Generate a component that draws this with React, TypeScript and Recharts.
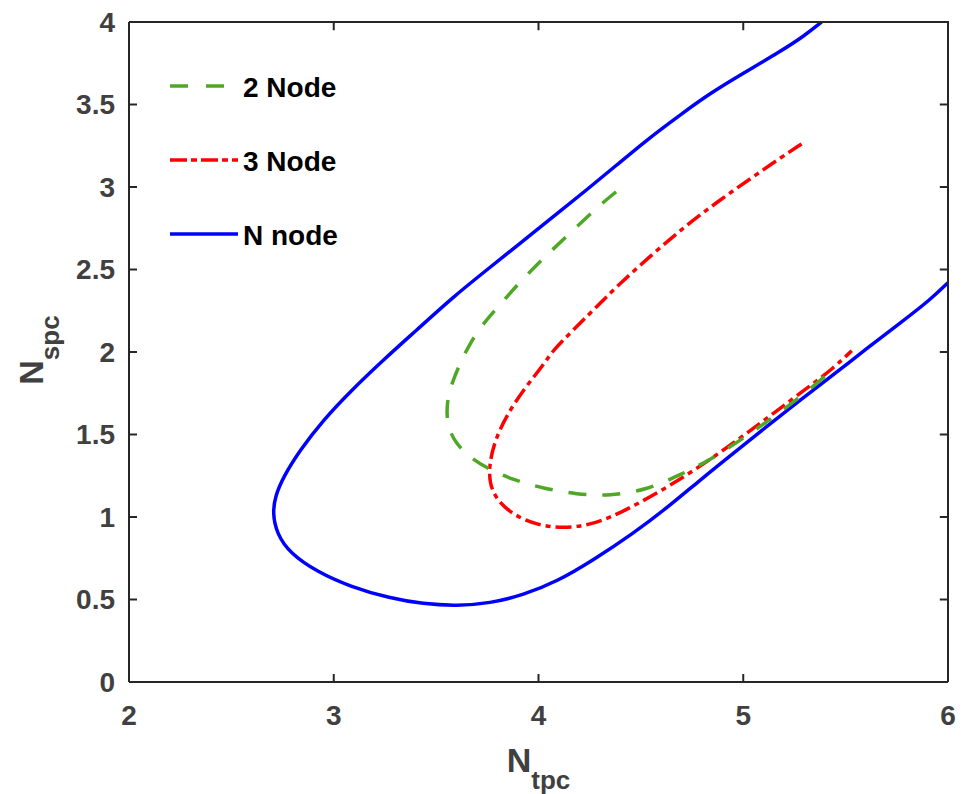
import React from 'react';
import { LineChart, Line, XAxis, YAxis, Legend, ReferenceLine } from 'recharts';

// ---- data ----
const xTicks = [2, 3, 4, 5, 6];
const yTicks = [0, 0.5, 1, 1.5, 2, 2.5, 3, 3.5, 4];
const xDomain: [number, number] = [2, 6];
const yDomain: [number, number] = [0, 4];

const seriesNames = ['2 Node', '3 Node', 'N node'];

const twoNodeX = [4.379, 4.3, 4.17, 4.04, 3.91, 3.796, 3.731, 3.665, 3.617, 3.576, 3.551, 3.554, 3.584, 3.649, 3.747, 3.877, 4.023, 4.186, 4.349, 4.528, 4.691, 4.838, 5.0, 5.163, 5.31, 5.456];
const twoNodeY = [2.971, 2.891, 2.739, 2.588, 2.426, 2.265, 2.174, 2.053, 1.931, 1.81, 1.689, 1.568, 1.467, 1.376, 1.295, 1.224, 1.174, 1.137, 1.127, 1.164, 1.255, 1.345, 1.477, 1.618, 1.759, 1.911];

const threeNodeX = [5.285, 5.179, 5.049, 4.886, 4.724, 4.561, 4.398, 4.268, 4.17, 4.072, 4.023, 3.926, 3.845, 3.788, 3.76, 3.76, 3.796, 3.877, 3.991, 4.121, 4.251, 4.382, 4.593, 4.789, 4.984, 5.147, 5.31, 5.44, 5.53];
const threeNodeY = [3.261, 3.174, 3.063, 2.921, 2.77, 2.598, 2.416, 2.255, 2.133, 2.012, 1.921, 1.77, 1.618, 1.467, 1.325, 1.204, 1.103, 1.012, 0.952, 0.931, 0.952, 1.012, 1.153, 1.305, 1.477, 1.628, 1.78, 1.901, 2.008];

const nNodeX = [5.383, 5.293, 5.179, 5.0, 4.838, 4.691, 4.528, 4.382, 4.235, 4.072, 3.91, 3.747, 3.584, 3.405, 3.242, 3.079, 2.949, 2.835, 2.754, 2.713, 2.702, 2.721, 2.786, 2.917, 3.079, 3.275, 3.437, 3.6, 3.763, 3.926, 4.089, 4.268, 4.463, 4.626, 4.789, 4.951, 5.114, 5.277, 5.44, 5.603, 5.765, 5.912, 6.0];
const nNodeY = [4.0, 3.911, 3.82, 3.689, 3.568, 3.436, 3.285, 3.133, 2.982, 2.82, 2.659, 2.497, 2.335, 2.133, 1.952, 1.759, 1.588, 1.406, 1.244, 1.123, 1.022, 0.901, 0.78, 0.669, 0.578, 0.507, 0.473, 0.461, 0.477, 0.527, 0.608, 0.739, 0.901, 1.053, 1.224, 1.386, 1.547, 1.709, 1.861, 2.022, 2.174, 2.315, 2.42];

const zip = (xs: number[], ys: number[]) => xs.map((x, i) => ({ x, y: ys[i] }));
const twoNodeData = zip(twoNodeX, twoNodeY);
const threeNodeData = zip(threeNodeX, threeNodeY);
const nNodeData = zip(nNodeX, nNodeY);

// ---- styles ----
const FONT = "'Liberation Sans', Arial, Helvetica, sans-serif";
const AXIS_COLOR = '#262626';
const TEXT_COLOR = '#404040';
const GREEN = '#4fa825';
const RED = '#ff0000';
const BLUE = '#0000ff';
const GREEN_DASH = '18 16';
const RED_DASH = '16 5 5 5';
// inward tick length of the top / right box edges, in axis units (about 8 px)
const TOP_TICK_LEN = 0.05;
const RIGHT_TICK_LEN = 0.04;

// chart layout (plot area spans x 129..948, y 22..682)
const CHART_W = 964;
const CHART_H = 794;
const MARGIN = { top: 22, right: 16, bottom: 0, left: 0 };
const Y_AXIS_W = 129;
const X_AXIS_H = 112;

const seriesStyles = [
  { color: GREEN, legendDash: '18 18' as string | undefined },
  { color: RED, legendDash: '17 4 6 4' as string | undefined },
  { color: BLUE, legendDash: undefined as string | undefined },
];

const tickStyle = { fill: TEXT_COLOR, fontSize: 28, fontWeight: 'bold' as const, fontFamily: FONT };
const axisLineStyle = { stroke: AXIS_COLOR, strokeWidth: 2 };

const XLabel = (props: any) => {
  const vb = props.viewBox || { x: 129, y: 682, width: 819, height: 112 };
  const cx = vb.x + vb.width / 2;
  return (
    <text x={cx} y={vb.y + 90} textAnchor="middle" fill={TEXT_COLOR} fontFamily={FONT} fontWeight="bold" fontSize={34}>
      <tspan>N</tspan>
      <tspan dy={17} fontSize={26}>tpc</tspan>
    </text>
  );
};

const YLabel = (props: any) => {
  const vb = props.viewBox || { x: 0, y: 22, width: 129, height: 660 };
  const x = vb.x + 43;
  const y = vb.y + vb.height / 2 - 2;
  return (
    <text x={x} y={y} transform={`rotate(-90, ${x}, ${y})`} textAnchor="middle" fill={TEXT_COLOR} fontFamily={FONT} fontWeight="bold" fontSize={34}>
      <tspan>N</tspan>
      <tspan dy={16} fontSize={26}>spc</tspan>
    </text>
  );
};

const LegendContent = () => {
  const rowY = [26, 100, 174];
  return (
    <svg width={230} height={200} style={{ display: 'block' }}>
      {seriesNames.map((name, i) => (
        <g key={name}>
          <line
            x1={10}
            x2={78}
            y1={rowY[i]}
            y2={rowY[i]}
            stroke={seriesStyles[i].color}
            strokeWidth={3.5}
            strokeDasharray={seriesStyles[i].legendDash}
          />
          <text x={83} y={rowY[i] + 11} fill="#000000" fontFamily={FONT} fontWeight="bold" fontSize={28}>
            {name}
          </text>
        </g>
      ))}
    </svg>
  );
};

export default function App() {
  const [xLeft, xRight] = xDomain;
  const [yBottom, yTop] = yDomain;
  const plotLeft = MARGIN.left + Y_AXIS_W;
  const plotTop = MARGIN.top;
  const plotW = CHART_W - MARGIN.right - plotLeft;
  const plotH = CHART_H - MARGIN.bottom - X_AXIS_H - plotTop;
  return (
    <div style={{ position: 'absolute', left: 0, top: 0, width: CHART_W, height: CHART_H, background: '#ffffff' }}>
      <LineChart width={CHART_W} height={CHART_H} margin={MARGIN}>
        <XAxis
          type="number"
          dataKey="x"
          domain={xDomain}
          ticks={xTicks}
          interval={0}
          height={X_AXIS_H}
          tickSize={-8}
          tickMargin={31}
          tick={tickStyle}
          axisLine={axisLineStyle}
          tickLine={axisLineStyle}
          label={<XLabel />}
        />
        <YAxis
          type="number"
          dataKey="y"
          domain={yDomain}
          ticks={yTicks}
          interval={0}
          width={Y_AXIS_W}
          tickSize={-8}
          tickMargin={22}
          tick={tickStyle}
          axisLine={axisLineStyle}
          tickLine={axisLineStyle}
          label={<YLabel />}
        />
        {/* top and right edges of the axes box */}
        <ReferenceLine
          segment={[{ x: xLeft, y: yTop }, { x: xRight, y: yTop }]}
          stroke={AXIS_COLOR}
          strokeWidth={2}
          ifOverflow="visible"
        />
        <ReferenceLine
          segment={[{ x: xRight, y: yBottom }, { x: xRight, y: yTop }]}
          stroke={AXIS_COLOR}
          strokeWidth={2}
          ifOverflow="visible"
        />
        {/* inward tick marks on the top edge */}
        {xTicks.slice(1, -1).map((t) => (
          <ReferenceLine
            key={`tt${t}`}
            segment={[{ x: t, y: yTop }, { x: t, y: yTop - TOP_TICK_LEN }]}
            stroke={AXIS_COLOR}
            strokeWidth={2}
            ifOverflow="visible"
          />
        ))}
        {/* inward tick marks on the right edge */}
        {yTicks.slice(1, -1).map((t) => (
          <ReferenceLine
            key={`rt${t}`}
            segment={[{ x: xRight, y: t }, { x: xRight - RIGHT_TICK_LEN, y: t }]}
            stroke={AXIS_COLOR}
            strokeWidth={2}
            ifOverflow="visible"
          />
        ))}
        <Line
          data={nNodeData}
          dataKey="y"
          name={seriesNames[2]}
          type="basis"
          stroke={BLUE}
          strokeWidth={3.5}
          dot={false}
          activeDot={false}
          isAnimationActive={false}
        />
        <Line
          data={threeNodeData}
          dataKey="y"
          name={seriesNames[1]}
          type="basis"
          stroke={RED}
          strokeWidth={3.5}
          strokeDasharray={RED_DASH}
          dot={false}
          activeDot={false}
          isAnimationActive={false}
        />
        <Line
          data={twoNodeData}
          dataKey="y"
          name={seriesNames[0]}
          type="basis"
          stroke={GREEN}
          strokeWidth={3.5}
          strokeDasharray={GREEN_DASH}
          dot={false}
          activeDot={false}
          isAnimationActive={false}
        />
        <Legend
          layout="vertical"
          align="center"
          verticalAlign="middle"
          content={<LegendContent />}
          wrapperStyle={{ left: 160, top: 60, width: 230, height: 200 }}
        />
      </LineChart>
      {/* frame overlay for the top and right edges of the axes box */}
      <div
        style={{
          position: 'absolute',
          left: plotLeft,
          top: plotTop - 1,
          width: plotW + 1,
          height: plotH + 1,
          boxSizing: 'border-box',
          borderTop: `2px solid ${AXIS_COLOR}`,
          borderRight: `2px solid ${AXIS_COLOR}`,
          pointerEvents: 'none',
          zIndex: 5,
        }}
      />
    </div>
  );
}
